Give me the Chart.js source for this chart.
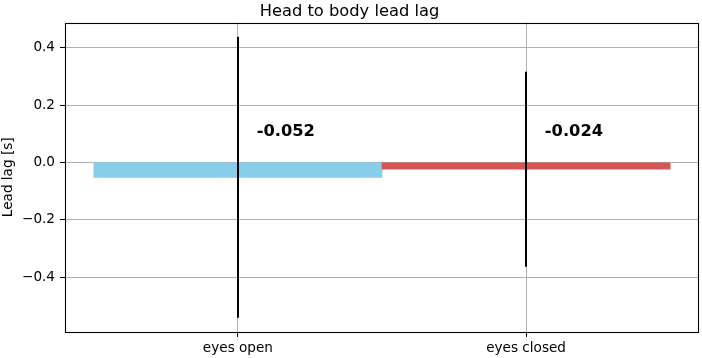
<!DOCTYPE html>
<html>
<head>
<meta charset="utf-8">
<script src="https://cdn.jsdelivr.net/npm/chart.js@4.4.1/dist/chart.umd.min.js"></script>
<style>
  html, body { margin: 0; padding: 0; background: #ffffff; }
  #wrap { width: 702px; height: 358px; }
</style>
</head>
<body>
<div id="wrap"><canvas id="c" width="702" height="358"></canvas></div>
<script>
// ---- data ----
const categories = ["eyes open", "eyes closed"];
const meanValues = [-0.052, -0.024];
const errorValues = [0.49, 0.34];
const valueLabels = ["-0.052", "-0.024"];
const barColors = ["#87ceeb", "#d65555"];
const yTickValues = [-0.4, -0.2, 0.0, 0.2, 0.4];
const yTickLabels = ["\u22120.4", "\u22120.2", "0.0", "0.2", "0.4"];

const FONT = "'DejaVu Sans', 'Liberation Sans', sans-serif";

const barData = categories.map((c, i) => ({ x: i, y: meanValues[i] }));

const overlayPlugin = {
  id: 'overlay',
  afterDatasetsDraw(chart) {
    const ctx = chart.ctx;
    const xs = chart.scales.x, ys = chart.scales.y;
    ctx.save();
    // error bars
    ctx.strokeStyle = '#000000';
    ctx.lineWidth = 2;
    for (let i = 0; i < meanValues.length; i++) {
      const x = Math.round(xs.getPixelForValue(i));
      const y1 = ys.getPixelForValue(meanValues[i] + errorValues[i]);
      const y2 = ys.getPixelForValue(meanValues[i] - errorValues[i]);
      ctx.beginPath();
      ctx.moveTo(x, y1);
      ctx.lineTo(x, y2);
      ctx.stroke();
    }
    // value labels
    ctx.fillStyle = '#000000';
    ctx.font = "bold 16.3px " + FONT;
    ctx.textAlign = 'left';
    ctx.textBaseline = 'alphabetic';
    for (let i = 0; i < valueLabels.length; i++) {
      const x = xs.getPixelForValue(i + 0.065);
      const y = ys.getPixelForValue(0.093);
      ctx.fillText(valueLabels[i], x, y);
    }
    // frame
    const a = chart.chartArea;
    ctx.strokeStyle = '#000000';
    ctx.lineWidth = 1.1;
    ctx.strokeRect(Math.round(a.left) + 0.5, Math.round(a.top) + 0.5,
                   Math.round(a.right - a.left) - 1, Math.round(a.bottom - a.top));
    ctx.restore();
  }
};

new Chart(document.getElementById('c'), {
  type: 'bar',
  data: {
    datasets: [{
      data: barData,
      backgroundColor: barColors,
      borderWidth: 0,
      categoryPercentage: 1.0,
      barPercentage: 1.0
    }]
  },
  options: {
    responsive: false,
    animation: false,
    devicePixelRatio: 1,
    layout: { padding: { left: 0, right: 3, top: 0, bottom: 0 } },
    plugins: {
      legend: { display: false },
      tooltip: { enabled: false },
      title: {
        display: true,
        text: 'Head to body lead lag',
        color: '#000000',
        font: { family: FONT, size: 16.3, weight: 'normal' },
        padding: { top: 1.5, bottom: 1.5 }
      }
    },
    scales: {
      x: {
        type: 'linear',
        min: -0.6,
        max: 1.6,
        offset: false,
        afterBuildTicks(scale) { scale.ticks = categories.map((c, i) => ({ value: i })); },
        afterFit(scale) { scale.height = 26; },
        ticks: {
          color: '#000000',
          font: { family: FONT, size: 13.6 },
          padding: 3,
          maxRotation: 0,
          autoSkip: false,
          callback: (v) => categories[v]
        },
        grid: {
          offset: false,
          color: '#b0b0b0',
          lineWidth: 1,
          tickColor: '#000000',
          tickLength: 5,
          drawTicks: true
        },
        border: { display: false }
      },
      y: {
        type: 'linear',
        min: -0.5916,
        max: 0.4878,
        afterBuildTicks(scale) { scale.ticks = yTickValues.map(v => ({ value: v })); },
        afterFit(scale) { scale.width = 65; },
        ticks: {
          color: '#000000',
          font: { family: FONT, size: 13.6 },
          padding: 5,
          autoSkip: false,
          callback: (v, idx) => yTickLabels[idx]
        },
        grid: {
          color: '#b0b0b0',
          lineWidth: 1,
          tickColor: '#000000',
          tickLength: 5,
          drawTicks: true
        },
        border: { display: false },
        title: {
          display: true,
          text: 'Lead lag [s]',
          color: '#000000',
          font: { family: FONT, size: 13.6 },
          padding: 0
        }
      }
    }
  },
  plugins: [overlayPlugin]
});
</script>
</body>
</html>
